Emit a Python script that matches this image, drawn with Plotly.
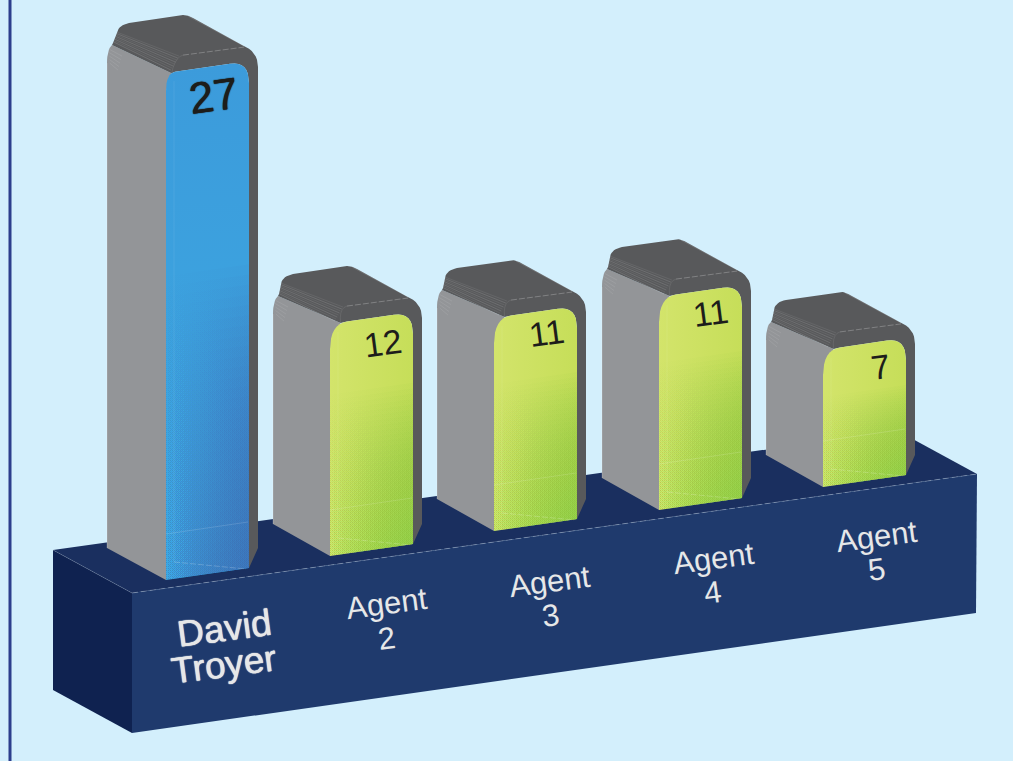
import plotly.graph_objects as go

# ---------- data ----------
categories = ["David Troyer", "Agent 2", "Agent 3", "Agent 4", "Agent 5"]
values = [27, 12, 11, 11, 7]
# height each column is actually drawn at, in value units (illustration is not perfectly to scale)
drawn_heights = [26.4, 12.08, 11.09, 11.09, 7.14]

# ---------- placement of the illustration (axis units = page pixels) ----------
UNIT = 19.2
foot_x = [166, 330, 494, 659, 823]
foot_y = [580, 556, 531, 510, 487]
corner = [9, 17, 17, 17, 17]
drop = [18, 26, 26, 26, 26]
depth = [-59, -57, -57, -57, -57]
value_pos = [(213, 95), (383, 343), (546, 333), (710, 313), (880, 367)]
label_pos = [[(224, 628), (224, 664)], [(386, 603), (386, 638)], [(549, 581), (550, 615)],
             [(713, 558), (712, 592)], [(876, 536), (876, 569)]]

BG = "#d3effc"
GRAY = "#939598"
DARK = "#58595b"
TXT = "#e6e7e8"

fig = go.Figure()


def bez(a, c, b, n=8):
    out = []
    for k in range(n + 1):
        t = k / n
        out.append(((1 - t) ** 2 * a[0] + 2 * t * (1 - t) * c[0] + t * t * b[0],
                    (1 - t) ** 2 * a[1] + 2 * t * (1 - t) * c[1] + t * t * b[1]))
    return out


def poly(pts, color=None, gradient=None):
    xs = [p[0] for p in pts] + [pts[0][0]]
    ys = [p[1] for p in pts] + [pts[0][1]]
    kw = dict(fillgradient=gradient) if gradient else dict(fillcolor=color)
    fig.add_trace(go.Scatter(x=xs, y=ys, mode="lines", fill="toself", line=dict(width=0),
                             hoverinfo="skip", showlegend=False, **kw))


def line(pts, color, width=0.7, dash="solid"):
    fig.add_trace(go.Scatter(x=[p[0] for p in pts], y=[p[1] for p in pts], mode="lines",
                             line=dict(color=color, width=width, dash=dash),
                             hoverinfo="skip", showlegend=False))


def grad(kind, c0, c1):
    return dict(type=kind, colorscale=[[0, c0], [1, c1]])


# ---------- side rule ----------
line([(10, 0), (10, 761)], "#2c3e8c", width=3)

# ---------- plinth ----------
bl, fl, fr, br = (53, 550), (132, 593), (977, 474), (898, 431)
poly([bl, fl, fr, br], "#1a2f5f")
poly([bl, fl, (132, 733), (53, 690)], "#0f2250")
poly([fl, fr, (976, 613), (132, 733)], "#1f3a6d")
line([fl, fr], "rgba(255,255,255,0.32)", 0.8, "6px,3px")
line([bl, fl], "rgba(255,255,255,0.25)", 0.6)

# ---------- columns ----------
for i, h in enumerate(drawn_heights):
    Fx, Fy = foot_x[i], foot_y[i]
    Tx, Ty = Fx, Fy - h * UNIT
    F = lambda dx, dy: (Fx + dx, Fy + dy)
    T = lambda dx, dy: (Tx + dx, Ty + dy)
    r, dr, dp = corner[i], drop[i], depth[i]
    join = T(r * 0.62, r * -0.145 + 1.5)
    blue = i == 0

    # grey left face
    poly([F(dp, -32), F(0, 0), T(0, dr), join, T(dp + 5, -28),
          *bez(T(dp + 5, -28), T(dp, -24), T(dp, -10))], GRAY)
    line([F(dp, -32), T(dp, -10)], "rgba(255,255,255,0.25)", 0.8)
    for k in range(5):
        d = 3 + 3.5 * k
        line([T(dp + 2 + 0.2 * k, -27 + d), T(dp + 15 - k, -20 + d)], "rgba(255,255,255,0.15)", 0.6)

    # dark top and right faces
    outline = [join, T(dp + 5, -28), T(dp + 6, -30)]
    outline += bez(T(-49, -41), T(-47, -48), T(-37, -50))
    outline += bez(T(17, -58), T(22, -58), T(27, -55))
    outline += bez(T(76, -28), T(92, -22), T(92, -6))
    outline += [F(92, -32), F(83, -12), T(83, 10)]
    outline += bez(T(83, 10), T(83, -12), T(64, -9.3))
    outline += [T(r, -r * 0.145)]
    poly(outline, DARK)

    # ribbed bevel and top edge highlights
    for k in range(8):
        s = k / 7
        a = (Tx - 49 - 3 * s, Ty - 41 + 10 * s)
        b = (Tx + 13 - 8 * s, Ty - 17 + 14 * s)
        line([a, b], "rgba(255,255,255,%.2f)" % (0.13 + 0.09 * (k % 2)), 0.6)
    line([T(17, -18), T(78, -26)], "rgba(255,255,255,0.30)", 0.8, "6px,2px")
    line([T(22, -57), T(78, -27)], "rgba(255,255,255,0.18)", 0.7)
    line(bez(T(17, -18), T(9, -16), join, 5), "rgba(255,255,255,0.14)", 0.6)

    # coloured front panel
    front = [F(0, 0), F(83, -12), T(83, 10)]
    front += bez(T(83, 10), T(83, -12), T(64, -9.3))
    front += bez(T(r, -r * 0.145), T(0, 0), T(0, dr))
    if blue:
        poly(front, gradient=grad("vertical", "#3caae3", "#3c9bdb"))
        tint, levels, reach, a0, a1 = "60,105,178", 30, 0.62, 0.005, 0.055
    else:
        poly(front, gradient=grad("horizontal", "#d3e46b", "#c6de59"))
        tint, levels, reach, a0, a1 = "140,198,63", 30, 0.75, 0.008, 0.065
    for k in range(levels):
        t = reach * (k + 1) / levels
        dy = -(Fy - (Ty + 17)) * t
        poly([F(0, 0), F(83, -12), F(83, -12 + dy), F(0, dy)],
             gradient=grad("horizontal", "rgba(%s,%.3f)" % (tint, a0), "rgba(%s,%.3f)" % (tint, a1)))

    # faint construction lines on the panel
    line([F(0, -46), F(82, -58)], "rgba(255,255,255,0.20)", 0.7)
    line([F(8, -18), F(80, -11)], "rgba(255,255,255,0.28)", 0.7, "6px,2px")
    line([F(8, -18), T(8, 8)], "rgba(255,255,255,0.12)", 0.7)

ANGLE = -7.5
ann = []
for i, v in enumerate(values):
    ink = "#1d1d1b"
    ann.append(dict(x=value_pos[i][0], y=value_pos[i][1], text=str(v), showarrow=False,
                    textangle=ANGLE, xanchor="center", yanchor="middle",
                    font=dict(family="Liberation Sans", size=44 if i == 0 else 34, color=ink,
                              shadow=("0 0 1px %s, 0 0 1px %s" % (ink, ink)) if i == 0 else "none")))
for i, name in enumerate(categories):
    for part, pos in zip(name.split(" "), label_pos[i]):
        ann.append(dict(x=pos[0], y=pos[1], text=part, showarrow=False, textangle=ANGLE,
                        xanchor="center", yanchor="middle",
                        font=dict(family="Liberation Sans", size=37 if i == 0 else 31, color=TXT,
                                  shadow=("0 0 1px %s, 0 0 1px %s" % (TXT, TXT)) if i == 0 else "none")))

fig.update_layout(
    width=1013, height=761, margin=dict(l=0, r=0, t=0, b=0, pad=0),
    paper_bgcolor=BG, plot_bgcolor=BG, showlegend=False, annotations=ann,
    xaxis=dict(range=[0, 1013], visible=False, fixedrange=True),
    yaxis=dict(range=[761, 0], visible=False, fixedrange=True),
)
fig.write_html("out.html", config=dict(displayModeBar=False),
               post_script="document.body.style.margin='0';document.body.style.overflow='hidden';document.body.style.background='%s';" % BG)
